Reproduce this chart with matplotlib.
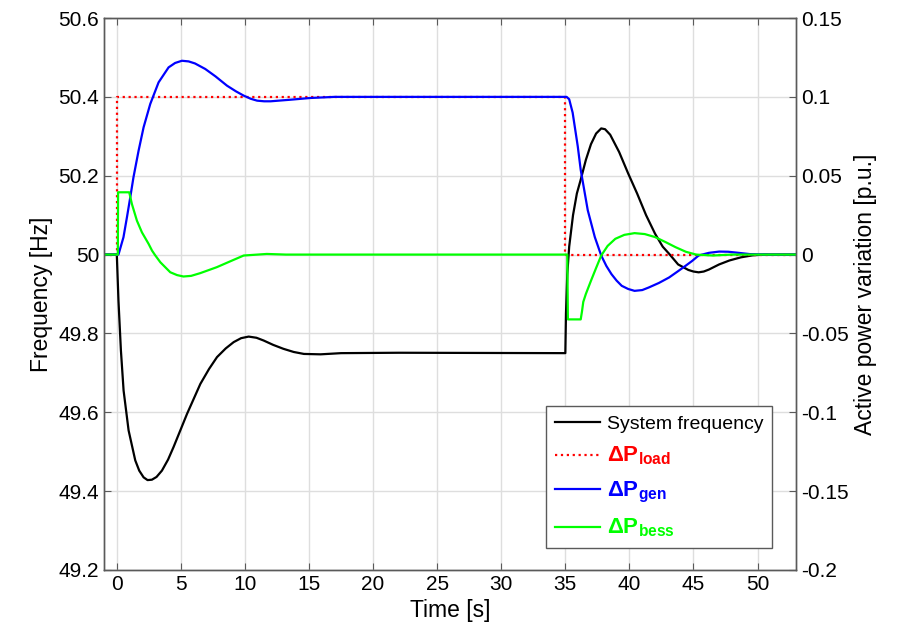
import matplotlib
matplotlib.use('Agg')
import matplotlib.pyplot as plt

plt.rcParams['font.family'] = ['Liberation Sans', 'DejaVu Sans']
plt.rcParams['mathtext.fontset'] = 'custom'
plt.rcParams['mathtext.rm'] = 'Liberation Sans'
plt.rcParams['mathtext.bf'] = 'Liberation Sans:bold'

# system frequency [Hz] (left axis)
t_freq = [-1, 0, 0.13, 0.32, 0.53, 0.92, 1.44, 1.75, 2.09, 2.4, 2.74, 3.1, 3.52, 4.0,
          4.43, 5.48, 6.52, 7.2, 7.82, 8.5, 9.12, 9.7, 10.29, 10.9, 11.46, 12.2, 13.0,
          13.8, 14.6, 15.9, 17.5, 22.0, 35.0, 35.05, 35.15, 35.3, 35.6, 35.9, 36.2,
          36.6, 37.0, 37.4, 37.8, 38.1, 38.5, 39.2, 39.9, 40.6, 41.3, 42.0, 42.6,
          43.1, 43.8, 44.6, 45.0, 45.4, 45.8, 46.2, 47.0, 47.8, 48.7, 49.6, 50.5, 53]
freq = [50, 50, 49.883, 49.757, 49.655, 49.554, 49.478, 49.452, 49.435, 49.428,
        49.429, 49.436, 49.452, 49.48, 49.512, 49.596, 49.672, 49.710, 49.740, 49.762,
        49.778, 49.788, 49.792, 49.789, 49.782, 49.771, 49.761, 49.753, 49.748,
        49.747, 49.750, 49.751, 49.750, 49.85, 49.95, 50.02, 50.10, 50.155, 50.19,
        50.24, 50.28, 50.307, 50.320, 50.318, 50.304, 50.26, 50.206, 50.155, 50.10,
        50.053, 50.02, 50.002, 49.975, 49.961, 49.957, 49.955, 49.957, 49.962, 49.975,
        49.985, 49.993, 49.998, 50.0, 50.0]

# load step [p.u.] (right axis)
t_load = [-1, 0, 0, 35, 35, 53]
p_load = [0, 0, 0.1, 0.1, 0, 0]

# generation [p.u.]
t_gen = [-1, 0.13, 0.52, 0.79, 1.05, 1.30, 1.70, 2.09, 2.61, 3.26, 4.04, 4.55, 5.08,
         5.6, 6.1, 6.9, 7.7, 8.6, 9.3, 9.9, 10.45, 10.95, 11.5, 12.0, 13.55, 15.1,
         17.0, 35.1, 35.3, 35.57, 35.97, 36.2, 36.75, 37.3, 37.8, 38.2, 38.6, 39.0,
         39.4, 39.9, 40.4, 41.0, 41.5, 42.3, 43.1, 43.8, 44.4, 44.9, 45.4, 46.2,
         47.0, 47.7, 48.3, 49.4, 51.0, 53]
p_gen = [0, 0, 0.011, 0.0236, 0.0363, 0.049, 0.0659, 0.0807, 0.0955, 0.1092, 0.1187,
         0.1215, 0.1229, 0.1225, 0.1212, 0.1177, 0.1130, 0.1071, 0.1035, 0.1008,
         0.0988, 0.0976, 0.0972, 0.0972, 0.0982, 0.0993, 0.1, 0.1, 0.0985, 0.090,
         0.0686, 0.0537, 0.0281, 0.0111, -0.0006, -0.0072, -0.0124, -0.0165, -0.0198,
         -0.0218, -0.023, -0.0225, -0.0209, -0.0180, -0.0145, -0.0105, -0.0070,
         -0.0040, -0.0006, 0.0011, 0.0019, 0.0018, 0.0013, 0.0003, 0.0, 0.0]

# BESS power [p.u.]
t_bess = [-1, 0.08, 0.1, 0.97, 1.18, 1.57, 1.96, 2.48, 2.75, 3.0, 3.4, 4.17, 4.7, 5.2,
          5.8, 6.5, 7.8, 9.1, 9.9, 11.7, 13.2, 35.15, 35.2, 36.2, 36.3, 36.4, 36.6,
          37.0, 37.4, 37.8, 38.3, 38.9, 39.6, 40.4, 41.2, 42.0, 42.8, 43.6, 44.4,
          45.2, 46.5, 48.0, 53]
p_bess = [0, 0, 0.0395, 0.0395, 0.032, 0.0215, 0.0141, 0.0068, 0.0025, -0.0005,
          -0.0049, -0.0112, -0.0130, -0.0139, -0.0135, -0.0118, -0.008, -0.0034,
          -0.0006, 0.0004, 0.0, 0.0, -0.0411, -0.0411, -0.036, -0.030, -0.025,
          -0.0166, -0.0085, -0.0006, 0.0055, 0.010, 0.0125, 0.0136, 0.0130, 0.0111,
          0.0080, 0.0047, 0.0018, 0.0, -0.0006, 0.0, 0.0]

x_ticks = [0, 5, 10, 15, 20, 25, 30, 35, 40, 45, 50]
f_ticks = [49.2, 49.4, 49.6, 49.8, 50.0, 50.2, 50.4, 50.6]
f_labels = ['49.2', '49.4', '49.6', '49.8', '50', '50.2', '50.4', '50.6']
p_ticks = [-0.2, -0.15, -0.1, -0.05, 0, 0.05, 0.1, 0.15]
p_labels = ['-0.2', '-0.15', '-0.1', '-0.05', '0', '0.05', '0.1', '0.15']

spine_col = '#5a5a5a'

fig = plt.figure(figsize=(9.09, 6.37), dpi=100)
ax = fig.add_axes([0.1144, 0.1052, 0.7613, 0.8665])
ax2 = ax.twinx()

h1, = ax.plot(t_freq, freq, color='black', lw=1.6, label='System frequency')
h2, = ax2.plot(t_load, p_load, color='red', lw=1.6, ls=':', label=r'$\mathbf{\Delta P}_{\mathbf{load}}$')
h3, = ax2.plot(t_gen, p_gen, color='blue', lw=1.6, label=r'$\mathbf{\Delta P}_{\mathbf{gen}}$')
h4, = ax2.plot(t_bess, p_bess, color='#00ff00', lw=1.6, label=r'$\mathbf{\Delta P}_{\mathbf{bess}}$')

ax.set_xlim(-1, 53)
ax.set_ylim(49.2, 50.6)
ax2.set_ylim(-0.2, 0.15)
ax.set_xticks(x_ticks)
ax.set_yticks(f_ticks)
ax.set_yticklabels(f_labels)
ax2.set_yticks(p_ticks)
ax2.set_yticklabels(p_labels)

ax.grid(True, color='#dedede', lw=1)
ax.set_axisbelow(True)

for a in (ax, ax2):
    for s in a.spines.values():
        s.set_color(spine_col)
        s.set_linewidth(1)
ax.tick_params(axis='both', direction='in', length=5, color=spine_col, labelsize=15,
               top=True, right=False)
ax2.tick_params(axis='y', direction='in', length=5, color=spine_col, labelsize=15)

ax.set_xlabel('Time [s]', fontsize=16.5)
ax.set_ylabel('Frequency [Hz]', fontsize=16.5)
ax2.set_ylabel('Active power variation [p.u.]', fontsize=16.5)

leg = ax2.legend(handles=[h1, h2, h3, h4], loc='lower right', bbox_to_anchor=(0.965, 0.04),
                 borderaxespad=0, fontsize=14, fancybox=False, framealpha=1,
                 edgecolor=spine_col, handlelength=2.3, handletextpad=0.35,
                 labelspacing=0.62, borderpad=0.45)
leg.get_frame().set_linewidth(1)
for i, (txt, col) in enumerate(zip(leg.get_texts(), ['black', 'red', 'blue', '#00ff00'])):
    txt.set_color(col)
    if i > 0:
        txt.set_fontsize(16)

fig.savefig('out.png', dpi=100)
